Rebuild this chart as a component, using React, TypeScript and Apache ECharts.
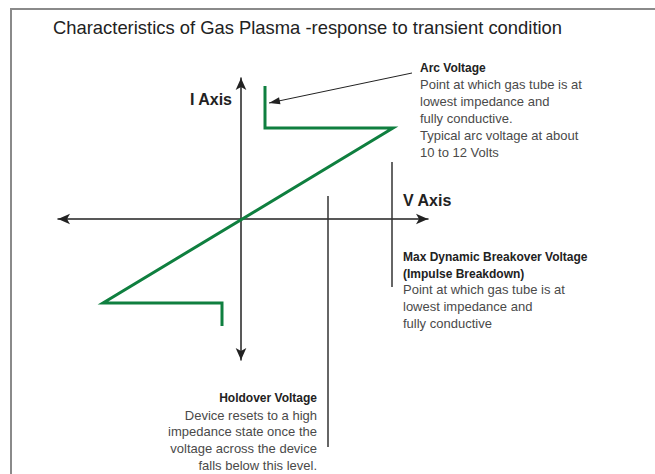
import React, { useEffect, useRef } from "react";
import * as echarts from "echarts";

// Axis extents (in chart units, V horizontal, I vertical)
const vRange = [-183, 187];
const iRange = [-141, 141];

// Gas plasma characteristic curve (V, I)
const curveV = [-19, -19, -138, 152, 24, 24];
const curveI = [-107, -84, -84, 91, 91, 133];

// Annotation guide lines: [v1, i1, v2, i2, arrow?]
const guideLines = [
  [87, 23, 87, -228, 0], // holdover voltage marker
  [151, 57, 151, -68, 0], // max dynamic breakover marker
  [171, 146, 28, 116, 1], // arc voltage pointer
];

const titleText = "Characteristics of Gas Plasma -response to transient condition";
const arcHead = "Arc Voltage";
const arcBody = [
  "Point at which gas tube is at",
  "lowest impedance and",
  "fully conductive.",
  "Typical arc voltage at about",
  "10 to 12 Volts",
];
const maxHead = ["Max Dynamic Breakover Voltage", "(Impulse Breakdown)"];
const maxBody = ["Point at which gas tube is at", "lowest impedance and", "fully conductive"];
const holdHead = "Holdover Voltage";
const holdBody = [
  "Device resets to a high",
  "impedance state once the",
  "voltage across the device",
  "falls below this level.",
];

const FONT = "'Liberation Sans', Arial, sans-serif";

export default function App() {
  const ref = useRef<HTMLDivElement>(null);
  useEffect(() => {
    if (!ref.current) return;
    const chart = echarts.init(ref.current, null, { renderer: "svg" });
    const curve = curveV.map((v, k) => [v, curveI[k]]);
    const txt = (
      text: string,
      x: number,
      y: number,
      font: string,
      fill: string,
      align = "left",
      vAlign = "middle",
      lineHeight?: number
    ) => ({
      type: "text",
      x,
      y,
      silent: true,
      style: {
        text,
        font,
        fill,
        align,
        verticalAlign: vAlign,
        textAlign: align,
        textVerticalAlign: vAlign,
        lineHeight,
      },
    });
    chart.setOption({
      animation: false,
      backgroundColor: "#ffffff",
      grid: { left: 58, right: 227, top: 78, bottom: 114 },
      xAxis: {
        type: "value",
        min: vRange[0],
        max: vRange[1],
        axisLabel: { show: false },
        axisTick: { show: false },
        splitLine: { show: false },
        axisLine: {
          onZero: true,
          symbol: ["arrow", "arrow"],
          symbolSize: [8, 12],
          lineStyle: { color: "#222", width: 1.5 },
        },
      },
      yAxis: {
        type: "value",
        min: iRange[0],
        max: iRange[1],
        axisLabel: { show: false },
        axisTick: { show: false },
        splitLine: { show: false },
        axisLine: {
          onZero: true,
          symbol: ["arrow", "arrow"],
          symbolSize: [8, 12],
          lineStyle: { color: "#222", width: 1.5 },
        },
      },
      series: [
        {
          type: "custom",
          silent: true,
          clip: false,
          encode: { x: [0, 2], y: [1, 3] },
          data: guideLines,
          renderItem: (params: any, api: any) => {
            const p1 = api.coord([api.value(0), api.value(1)]);
            const p2 = api.coord([api.value(2), api.value(3)]);
            const arrow = api.value(4) === 1;
            const children: any[] = [
              {
                type: "line",
                shape: { x1: p1[0], y1: p1[1], x2: p2[0], y2: p2[1] },
                style: { stroke: arrow ? "#222" : "#333", lineWidth: arrow ? 1 : 1.5 },
              },
            ];
            if (arrow) {
              const dx = p2[0] - p1[0];
              const dy = p2[1] - p1[1];
              const len = Math.sqrt(dx * dx + dy * dy);
              const ux = dx / len;
              const uy = dy / len;
              const L = 11;
              const W = 3.5;
              const bx = p2[0] - ux * L;
              const by = p2[1] - uy * L;
              children.push({
                type: "polygon",
                shape: {
                  points: [
                    [p2[0], p2[1]],
                    [bx - uy * W, by + ux * W],
                    [bx + uy * W, by - ux * W],
                  ],
                },
                style: { fill: "#222" },
              });
            }
            return { type: "group", children };
          },
        },
        {
          type: "line",
          data: curve,
          symbol: "none",
          silent: true,
          lineStyle: { color: "#0f7f3f", width: 3, join: "miter" },
        },
      ],
      graphic: [
        {
          type: "rect",
          silent: true,
          shape: { x: 11, y: 9, width: 700, height: 500 },
          style: { fill: "none", stroke: "#8a8a8a", lineWidth: 2 },
        },
        txt(titleText, 53, 27, `18.4px ${FONT}`, "#222"),
        txt("I Axis", 232, 99, `bold 16px ${FONT}`, "#222", "right"),
        txt("V Axis", 403, 200, `bold 16px ${FONT}`, "#222"),
        txt(arcHead, 420, 68, `bold 12px ${FONT}`, "#222"),
        txt(arcBody.join("\n"), 420, 76.6, `13px ${FONT}`, "#4a4a4a", "left", "top", 16.8),
        txt(maxHead.join("\n"), 403, 248.8, `bold 12px ${FONT}`, "#222", "left", "top", 16.5),
        txt(maxBody.join("\n"), 403, 281.7, `13px ${FONT}`, "#4a4a4a", "left", "top", 16.6),
        txt(holdHead, 317, 398, `bold 12px ${FONT}`, "#222", "right"),
        txt(holdBody.join("\n"), 317, 406.7, `13px ${FONT}`, "#4a4a4a", "right", "top", 16.7),
      ],
    });
    return () => chart.dispose();
  }, []);
  return (
    <div
      ref={ref}
      style={{ position: "absolute", left: 0, top: 0, width: 655, height: 474 }}
    />
  );
}
